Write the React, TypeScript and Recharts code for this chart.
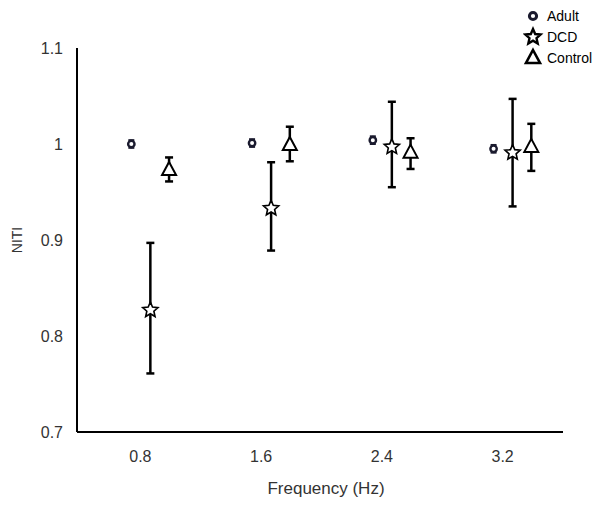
import { ScatterChart, Scatter, XAxis, YAxis, ErrorBar, Legend, Label } from "recharts";

const frequencies = [0.8, 1.6, 2.4, 3.2];
const xTicks = [0.8, 1.6, 2.4, 3.2];
const yTicks = [0.7, 0.8, 0.9, 1, 1.1];

const adultMean = [1.0, 1.001, 1.004, 0.995];
const adultLow = [0.996, 0.997, 1.0, 0.991];
const adultHigh = [1.004, 1.005, 1.008, 0.999];

const dcdMean = [0.827, 0.933, 0.997, 0.991];
const dcdLow = [0.761, 0.889, 0.955, 0.935];
const dcdHigh = [0.897, 0.981, 1.044, 1.047];

const controlMean = [0.973, 0.999, 0.991, 0.997];
const controlLow = [0.961, 0.982, 0.974, 0.972];
const controlHigh = [0.986, 1.018, 1.006, 1.021];

// horizontal dodge so the three groups sit side by side
const DODGE = { adult: -0.06, dcd: 0.066, control: 0.19 };

function build(mean: number[], low: number[], high: number[], dodge: number) {
  return frequencies.map((f, i) => ({
    x: f + dodge,
    y: mean[i],
    err: [mean[i] - low[i], high[i] - mean[i]],
  }));
}

const adultData = build(adultMean, adultLow, adultHigh, DODGE.adult);
const dcdData = build(dcdMean, dcdLow, dcdHigh, DODGE.dcd);
const controlData = build(controlMean, controlLow, controlHigh, DODGE.control);

const FONT = "'Liberation Sans', Arial, sans-serif";

function starPoints(cx: number, cy: number, R: number, r: number) {
  const pts: string[] = [];
  for (let i = 0; i < 10; i++) {
    const rad = i % 2 === 0 ? R : r;
    const a = -Math.PI / 2 + (i * Math.PI) / 5;
    pts.push(`${cx + rad * Math.cos(a)},${cy + rad * Math.sin(a)}`);
  }
  return pts.join(" ");
}

const Ring = ({ cx, cy, big }: any) => (
  <circle cx={cx} cy={cy} r={big ? 3.6 : 3.2} fill="#fff" stroke="#1a1a2e" strokeWidth={big ? 3 : 2.4} />
);

const Star = ({ cx, cy, big }: any) => (
  <polygon
    points={starPoints(cx, cy, 8, 3.7)}
    fill="#fff"
    stroke="#000"
    strokeWidth={big ? 2.4 : 1.6}
    strokeLinejoin="miter"
  />
);

const Tri = ({ cx, cy, big }: any) => (
  <polygon
    points={`${cx},${cy - 8} ${cx + 7},${cy + 5} ${cx - 7},${cy + 5}`}
    fill="#fff"
    stroke="#000"
    strokeWidth={big ? 2.6 : 2}
  />
);

function LegendBox() {
  const items = [
    { name: "Adult", Icon: Ring },
    { name: "DCD", Icon: Star },
    { name: "Control", Icon: Tri },
  ];
  return (
    <svg width={85} height={64}>
      {items.map((it, i) => (
        <g key={it.name}>
          <it.Icon cx={10} cy={8 + i * 21} big />
          <text x={24} y={8 + i * 21} dominantBaseline="central" fontSize={14} fontFamily={FONT} fill="#000">
            {it.name}
          </text>
        </g>
      ))}
    </svg>
  );
}

export default function App() {
  return (
    <ScatterChart width={592} height={497} margin={{ top: 40, right: 37, bottom: 0, left: 0 }}>
      <XAxis
        type="number"
        dataKey="x"
        domain={[0.38, 3.6]}
        ticks={xTicks}
        tickFormatter={(v) => String(v)}
        tickLine={false}
        tickMargin={13}
        height={73}
        axisLine={{ stroke: "#000", strokeWidth: 2 }}
        tick={{ fill: "#333", fontSize: 16, fontFamily: FONT }}
      >
        <Label
          content={({ viewBox }: any) => (
            <text
              x={viewBox.x + viewBox.width / 2 + 6}
              y={viewBox.y + 62}
              textAnchor="middle"
              fontSize={17}
              fontFamily={FONT}
              fill="#333"
            >
              Frequency (Hz)
            </text>
          )}
        />
      </XAxis>
      <YAxis
        type="number"
        dataKey="y"
        domain={[0.7, 1.1]}
        ticks={yTicks}
        tickLine={false}
        tickMargin={8}
        width={69}
        axisLine={{ stroke: "#000", strokeWidth: 2 }}
        tick={{ fill: "#333", fontSize: 16, fontFamily: FONT }}
      >
        <Label
          content={({ viewBox }: any) => {
            const x = viewBox.x + 9;
            const y = viewBox.y + viewBox.height / 2;
            return (
              <text
                x={x}
                y={y}
                transform={`rotate(-90 ${x} ${y})`}
                textAnchor="middle"
                dominantBaseline="central"
                fontSize={14}
                fontFamily={FONT}
                fill="#333"
              >
                NITI
              </text>
            );
          }}
        />
      </YAxis>
      <Legend
        layout="vertical"
        align="center"
        verticalAlign="middle"
        wrapperStyle={{ top: 0, left: 515, width: 85 }}
        content={() => <LegendBox />}
      />
      <Scatter name="Adult" data={adultData} shape={Ring} isAnimationActive={false}>
        <ErrorBar dataKey="err" direction="y" width={3} stroke="#1a1a2e" strokeWidth={2} />
      </Scatter>
      <Scatter name="DCD" data={dcdData} shape={Star} isAnimationActive={false}>
        <ErrorBar dataKey="err" direction="y" width={4} stroke="#000" strokeWidth={2.5} />
      </Scatter>
      <Scatter name="Control" data={controlData} shape={Tri} isAnimationActive={false}>
        <ErrorBar dataKey="err" direction="y" width={4} stroke="#000" strokeWidth={2.5} />
      </Scatter>
    </ScatterChart>
  );
}
